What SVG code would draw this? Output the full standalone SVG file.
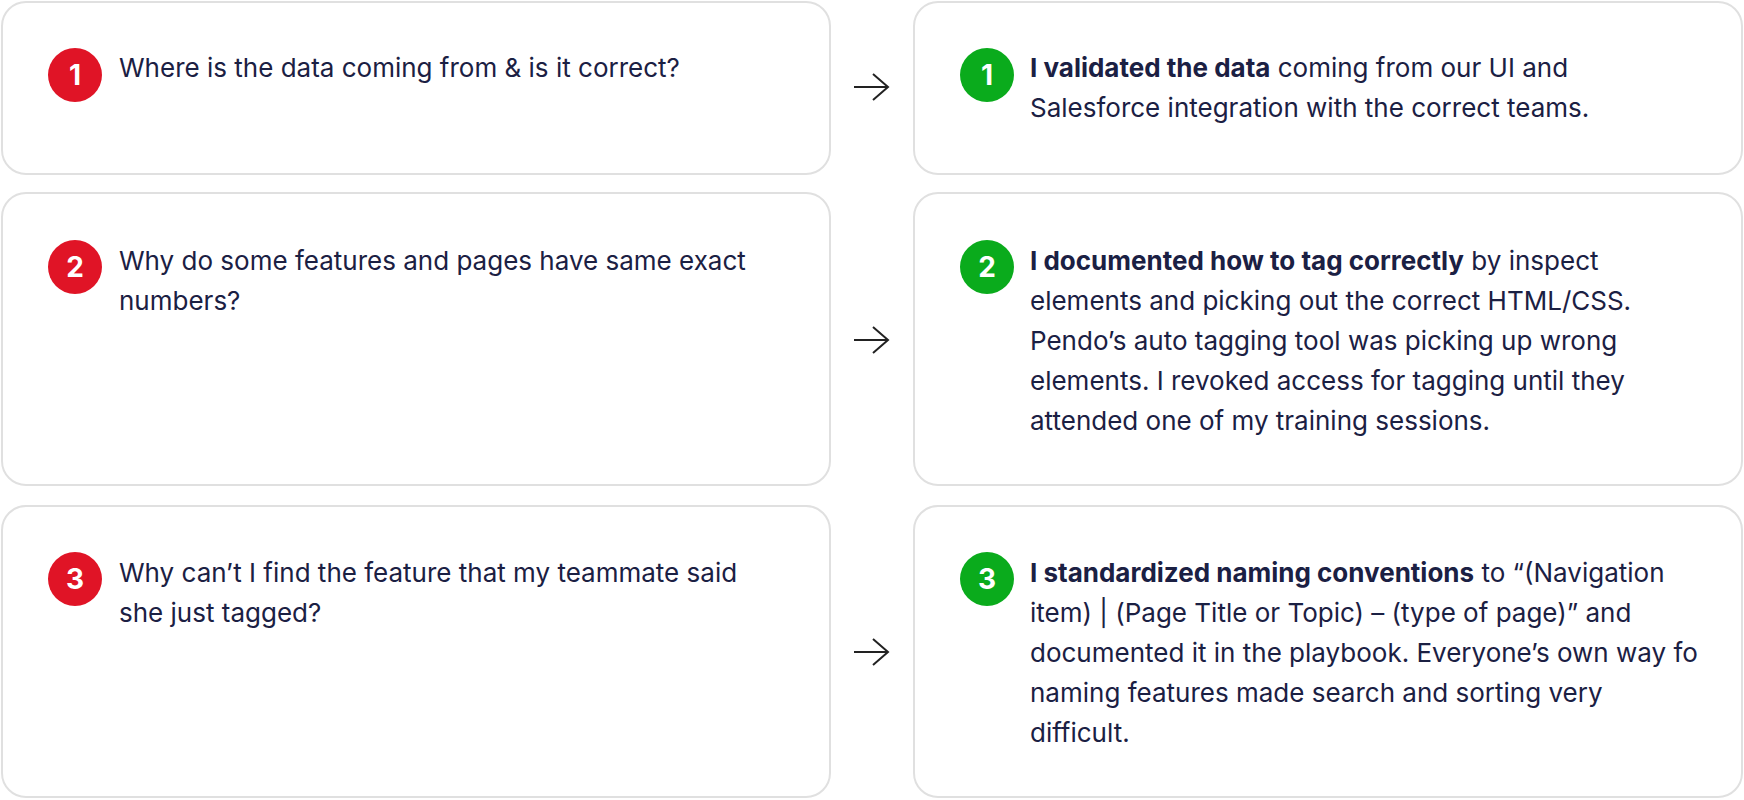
<svg xmlns="http://www.w3.org/2000/svg" width="1744" height="800" viewBox="0 0 1744 800">
  <style>
    .card { fill: #ffffff; stroke: #e0e0e0; stroke-width: 2; }
    .txt { font-family: Inter, "Noto Sans", "Liberation Sans", sans-serif; font-size: 26px; fill: #1b2043; }
    .b { font-weight: 700; }
    .num { font-family: Inter, "Liberation Sans", sans-serif; font-size: 28px; font-weight: 700; fill: #ffffff; text-anchor: middle; }
    .red { fill: #e01426; }
    .green { fill: #0aab1c; }
    .arrow { fill: none; stroke: #222222; stroke-width: 2; stroke-linecap: butt; stroke-linejoin: miter; }
  </style>
  <rect width="1744" height="800" fill="#ffffff"/>

  <g id="q1">
    <rect class="card" x="2" y="2" width="828" height="172" rx="24"/>
    <circle class="red" cx="75" cy="75" r="27"/>
    <text class="num" x="75" y="85">1</text>
    <text class="txt" x="119" y="77">Where is the data coming from &amp; is it correct?</text>
  </g>
  <g id="a1">
    <rect class="card" x="914" y="2" width="828" height="172" rx="24"/>
    <circle class="green" cx="987" cy="75" r="27"/>
    <text class="num" x="987" y="85">1</text>
    <text class="txt" x="1030" y="77"><tspan class="b">I validated the data</tspan> coming from our UI and</text>
    <text class="txt" x="1030" y="117">Salesforce integration with the correct teams.</text>
  </g>

  <g id="q2">
    <rect class="card" x="2" y="193" width="828" height="292" rx="24"/>
    <circle class="red" cx="75" cy="267" r="27"/>
    <text class="num" x="75" y="277">2</text>
    <text class="txt" x="119" y="270">Why do some features and pages have same exact</text>
    <text class="txt" x="119" y="310">numbers?</text>
  </g>
  <g id="a2">
    <rect class="card" x="914" y="193" width="828" height="292" rx="24"/>
    <circle class="green" cx="987" cy="267" r="27"/>
    <text class="num" x="987" y="277">2</text>
    <text class="txt" x="1030" y="270"><tspan class="b">I documented how to tag correctly</tspan> by inspect</text>
    <text class="txt" x="1030" y="310">elements and picking out the correct HTML/CSS.</text>
    <text class="txt" x="1030" y="350">Pendo’s auto tagging tool was picking up wrong</text>
    <text class="txt" x="1030" y="390">elements. I revoked access for tagging until they</text>
    <text class="txt" x="1030" y="430">attended one of my training sessions.</text>
  </g>

  <g id="q3">
    <rect class="card" x="2" y="506" width="828" height="291" rx="24"/>
    <circle class="red" cx="75" cy="579" r="27"/>
    <text class="num" x="75" y="589">3</text>
    <text class="txt" x="119" y="582">Why can’t I find the feature that my teammate said</text>
    <text class="txt" x="119" y="622">she just tagged?</text>
  </g>
  <g id="a3">
    <rect class="card" x="914" y="506" width="828" height="291" rx="24"/>
    <circle class="green" cx="987" cy="579" r="27"/>
    <text class="num" x="987" y="589">3</text>
    <text class="txt" x="1030" y="582"><tspan class="b">I standardized naming conventions</tspan> to “(Navigation</text>
    <text class="txt" x="1030" y="622">item) | (Page Title or Topic) – (type of page)” and</text>
    <text class="txt" x="1030" y="662">documented it in the playbook. Everyone’s own way fo</text>
    <text class="txt" x="1030" y="702">naming features made search and sorting very</text>
    <text class="txt" x="1030" y="742">difficult.</text>
  </g>

  <g id="connectors">
    <path class="arrow" d="M854 87 H888 M873 74 L888 87 L873 100"/>
    <path class="arrow" d="M854 340 H888 M873 327 L888 340 L873 353"/>
    <path class="arrow" d="M854 652 H888 M873 639 L888 652 L873 665"/>
  </g>
</svg>
